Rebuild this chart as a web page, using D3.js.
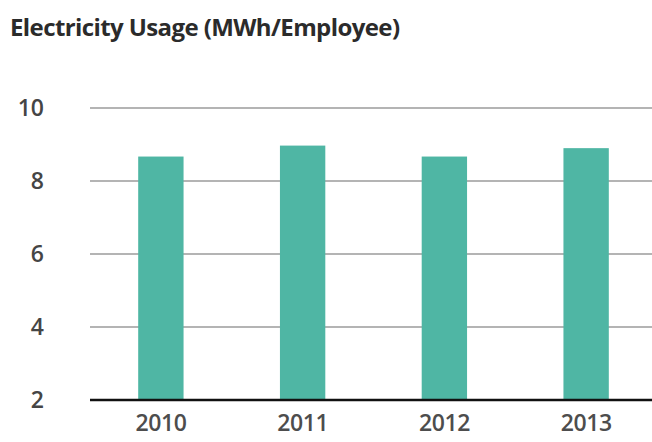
<!DOCTYPE html>
<html lang="en">
<head>
<meta charset="UTF-8">
<title>Electricity Usage</title>
<script src="https://d3js.org/d3.v7.min.js"></script>
<style>
    html,body{margin:0;padding:0;background:#fff;}
    svg text{font-family:"Open Sans",sans-serif;}
</style>
</head>
<body>
<svg id="chart" width="652" height="442"></svg>
<script>
    // values
    const years = ["2010", "2011", "2012", "2013"];
    const usage = [8.67, 8.97, 8.67, 8.9];
    const yTicks = [2, 4, 6, 8, 10];

    const svg = d3.select("#chart");

    const x = d3.scaleBand()
        .domain(years)
        .range([90, 657])
        .paddingInner(0.68)
        .paddingOuter(0.34);

    const y = d3.scaleLinear()
        .domain([2, 10])
        .range([400, 108]);

    // title
    svg.append("text")
        .attr("x", 10)
        .attr("y", 36)
        .attr("font-size", 24)
        .attr("font-weight", "bold")
        .attr("fill", "#2b2b2b")
        .attr("letter-spacing", "-0.6")
        .text("Electricity Usage (MWh/Employee)");

    // grid lines
    svg.append("g")
        .selectAll("line")
        .data(yTicks.filter(d => d > 2))
        .join("line")
        .attr("x1", 90)
        .attr("x2", 652)
        .attr("y1", d => y(d))
        .attr("y2", d => y(d))
        .attr("stroke", "#b4b4b4")
        .attr("stroke-width", 2);

    // y tick labels
    svg.append("g")
        .selectAll("text")
        .data(yTicks)
        .join("text")
        .attr("x", 44)
        .attr("y", d => y(d))
        .attr("dy", "0.36em")
        .attr("text-anchor", "end")
        .attr("font-size", 23)
        .attr("font-weight", 600)
        .attr("fill", "#454545")
        .text(d => d);

    // bars
    svg.append("g")
        .selectAll("rect")
        .data(usage)
        .join("rect")
        .attr("x", (d, i) => x(years[i]))
        .attr("width", x.bandwidth())
        .attr("y", d => y(d))
        .attr("height", d => y(2) - y(d))
        .attr("fill", "#4fb6a4");

    // baseline
    svg.append("line")
        .attr("x1", 90)
        .attr("x2", 652)
        .attr("y1", y(2))
        .attr("y2", y(2))
        .attr("stroke", "#111")
        .attr("stroke-width", 2.5);

    // year labels
    const xAxis = d3.axisBottom(x).tickSize(0).tickPadding(0);
    const gx = svg.append("g")
        .attr("transform", "translate(0,415)")
        .call(xAxis);
    gx.select(".domain").remove();
    gx.selectAll("text")
        .attr("font-size", 23)
        .attr("font-weight", 600)
        .attr("letter-spacing", "-0.4")
        .attr("fill", "#4d4d4d")
        .attr("font-family", "Open Sans, sans-serif");
</script>
</body>
</html>
